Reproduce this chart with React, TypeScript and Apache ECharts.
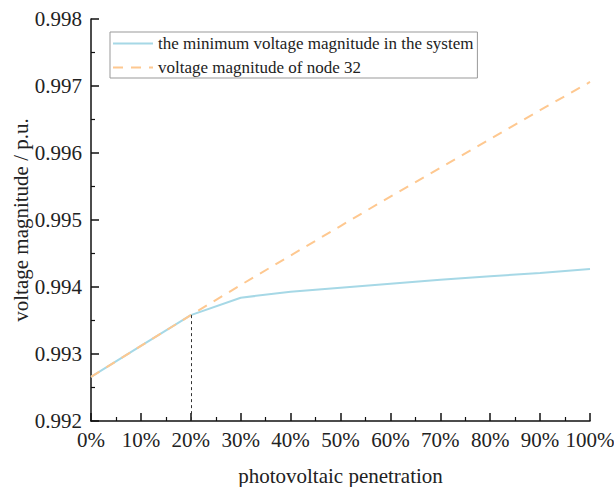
import React, { useEffect, useRef } from "react";
import * as echarts from "echarts";

const penetration = [0, 10, 20, 30, 40, 50, 60, 70, 80, 90, 100];
const minVoltage = [0.99266, 0.99312, 0.99358, 0.99384, 0.99393, 0.99399, 0.99405, 0.99411, 0.99416, 0.99421, 0.99427];
const node32Voltage = [0.99266, 0.99312, 0.99358, 0.99403, 0.99447, 0.99491, 0.99535, 0.99578, 0.99621, 0.99664, 0.99706];
const markX = 20;
const markY = 0.99358;
const seriesNames = ["the minimum voltage magnitude in the system", "voltage magnitude of node 32"];
const xTitle = "photovoltaic penetration";
const yTitle = "voltage magnitude / p.u.";

const FONT = "'Liberation Serif', 'Times New Roman', serif";

export default function App() {
  const ref = useRef<HTMLDivElement>(null);
  useEffect(() => {
    if (!ref.current) return;
    const chart = echarts.init(ref.current, null, { renderer: "svg" });
    chart.setOption({
      animation: false,
      backgroundColor: "#fff",
      textStyle: { fontFamily: FONT },
      grid: { left: 91, right: 24, top: 19, bottom: 66, containLabel: false, outerBoundsMode: "none" },
      legend: {
        orient: "vertical",
        left: 110,
        top: 32,
        padding: [3, 4, 2, 2],
        itemWidth: 40,
        itemHeight: 14,
        itemGap: 7,
        borderColor: "#999",
        borderWidth: 1,
        itemStyle: { opacity: 0 },
        textStyle: { fontFamily: FONT, fontSize: 17, color: "#222" },
        data: seriesNames,
      },
      xAxis: {
        type: "value",
        min: 0,
        max: 100,
        interval: 10,
        name: xTitle,
        nameLocation: "middle",
        nameGap: 44,
        nameTextStyle: { fontFamily: FONT, fontSize: 21, color: "#222" },
        axisLine: { lineStyle: { color: "#111", width: 1.5 } },
        axisTick: { inside: true, length: 8, lineStyle: { color: "#111", width: 1.5 } },
        minorTick: { show: true, splitNumber: 2, length: 4, lineStyle: { color: "#111", width: 1.2 } },
        axisLabel: { formatter: "{value}%", fontFamily: FONT, fontSize: 21, color: "#222", margin: 8 },
        splitLine: { show: false },
      },
      yAxis: {
        type: "value",
        min: 0.992,
        max: 0.998,
        interval: 0.001,
        axisLine: { show: true, lineStyle: { color: "#111", width: 1.5 } },
        axisTick: { show: true, inside: true, length: 8, lineStyle: { color: "#111", width: 1.5 } },
        minorTick: { show: true, splitNumber: 2, length: 4, lineStyle: { color: "#111", width: 1.2 } },
        axisLabel: {
          formatter: (v: number) => v.toFixed(3),
          fontFamily: FONT,
          fontSize: 21,
          color: "#222",
          margin: 9,
        },
        splitLine: { show: false },
      },
      graphic: [
        {
          type: "text",
          x: 21,
          y: 220,
          rotation: Math.PI / 2,
          style: {
            text: yTitle,
            fontFamily: FONT,
            fontSize: 21,
            fill: "#222",
            align: "center",
            verticalAlign: "middle",
          },
        },
      ],
      series: [
        {
          name: seriesNames[0],
          type: "line",
          symbol: "none",
          data: penetration.map((x, i) => [x, minVoltage[i]]),
          lineStyle: { color: "#a6d8e6", width: 2 },
          itemStyle: { color: "#a6d8e6" },
          markLine: {
            silent: true,
            symbol: "none",
            label: { show: false },
            lineStyle: { color: "#333", type: [3, 3], width: 1 },
            data: [[{ coord: [markX, markY] }, { coord: [markX, 0.992] }]],
          },
          z: 2,
        },
        {
          name: seriesNames[1],
          type: "line",
          symbol: "none",
          data: penetration.map((x, i) => [x, node32Voltage[i]]),
          lineStyle: { color: "#fec890", width: 2, type: [10, 8] },
          itemStyle: { color: "#fec890" },
          z: 3,
        },
      ],
    });
    return () => chart.dispose();
  }, []);
  return <div ref={ref} style={{ width: 614, height: 487, position: "absolute", left: 0, top: 0 }} />;
}
